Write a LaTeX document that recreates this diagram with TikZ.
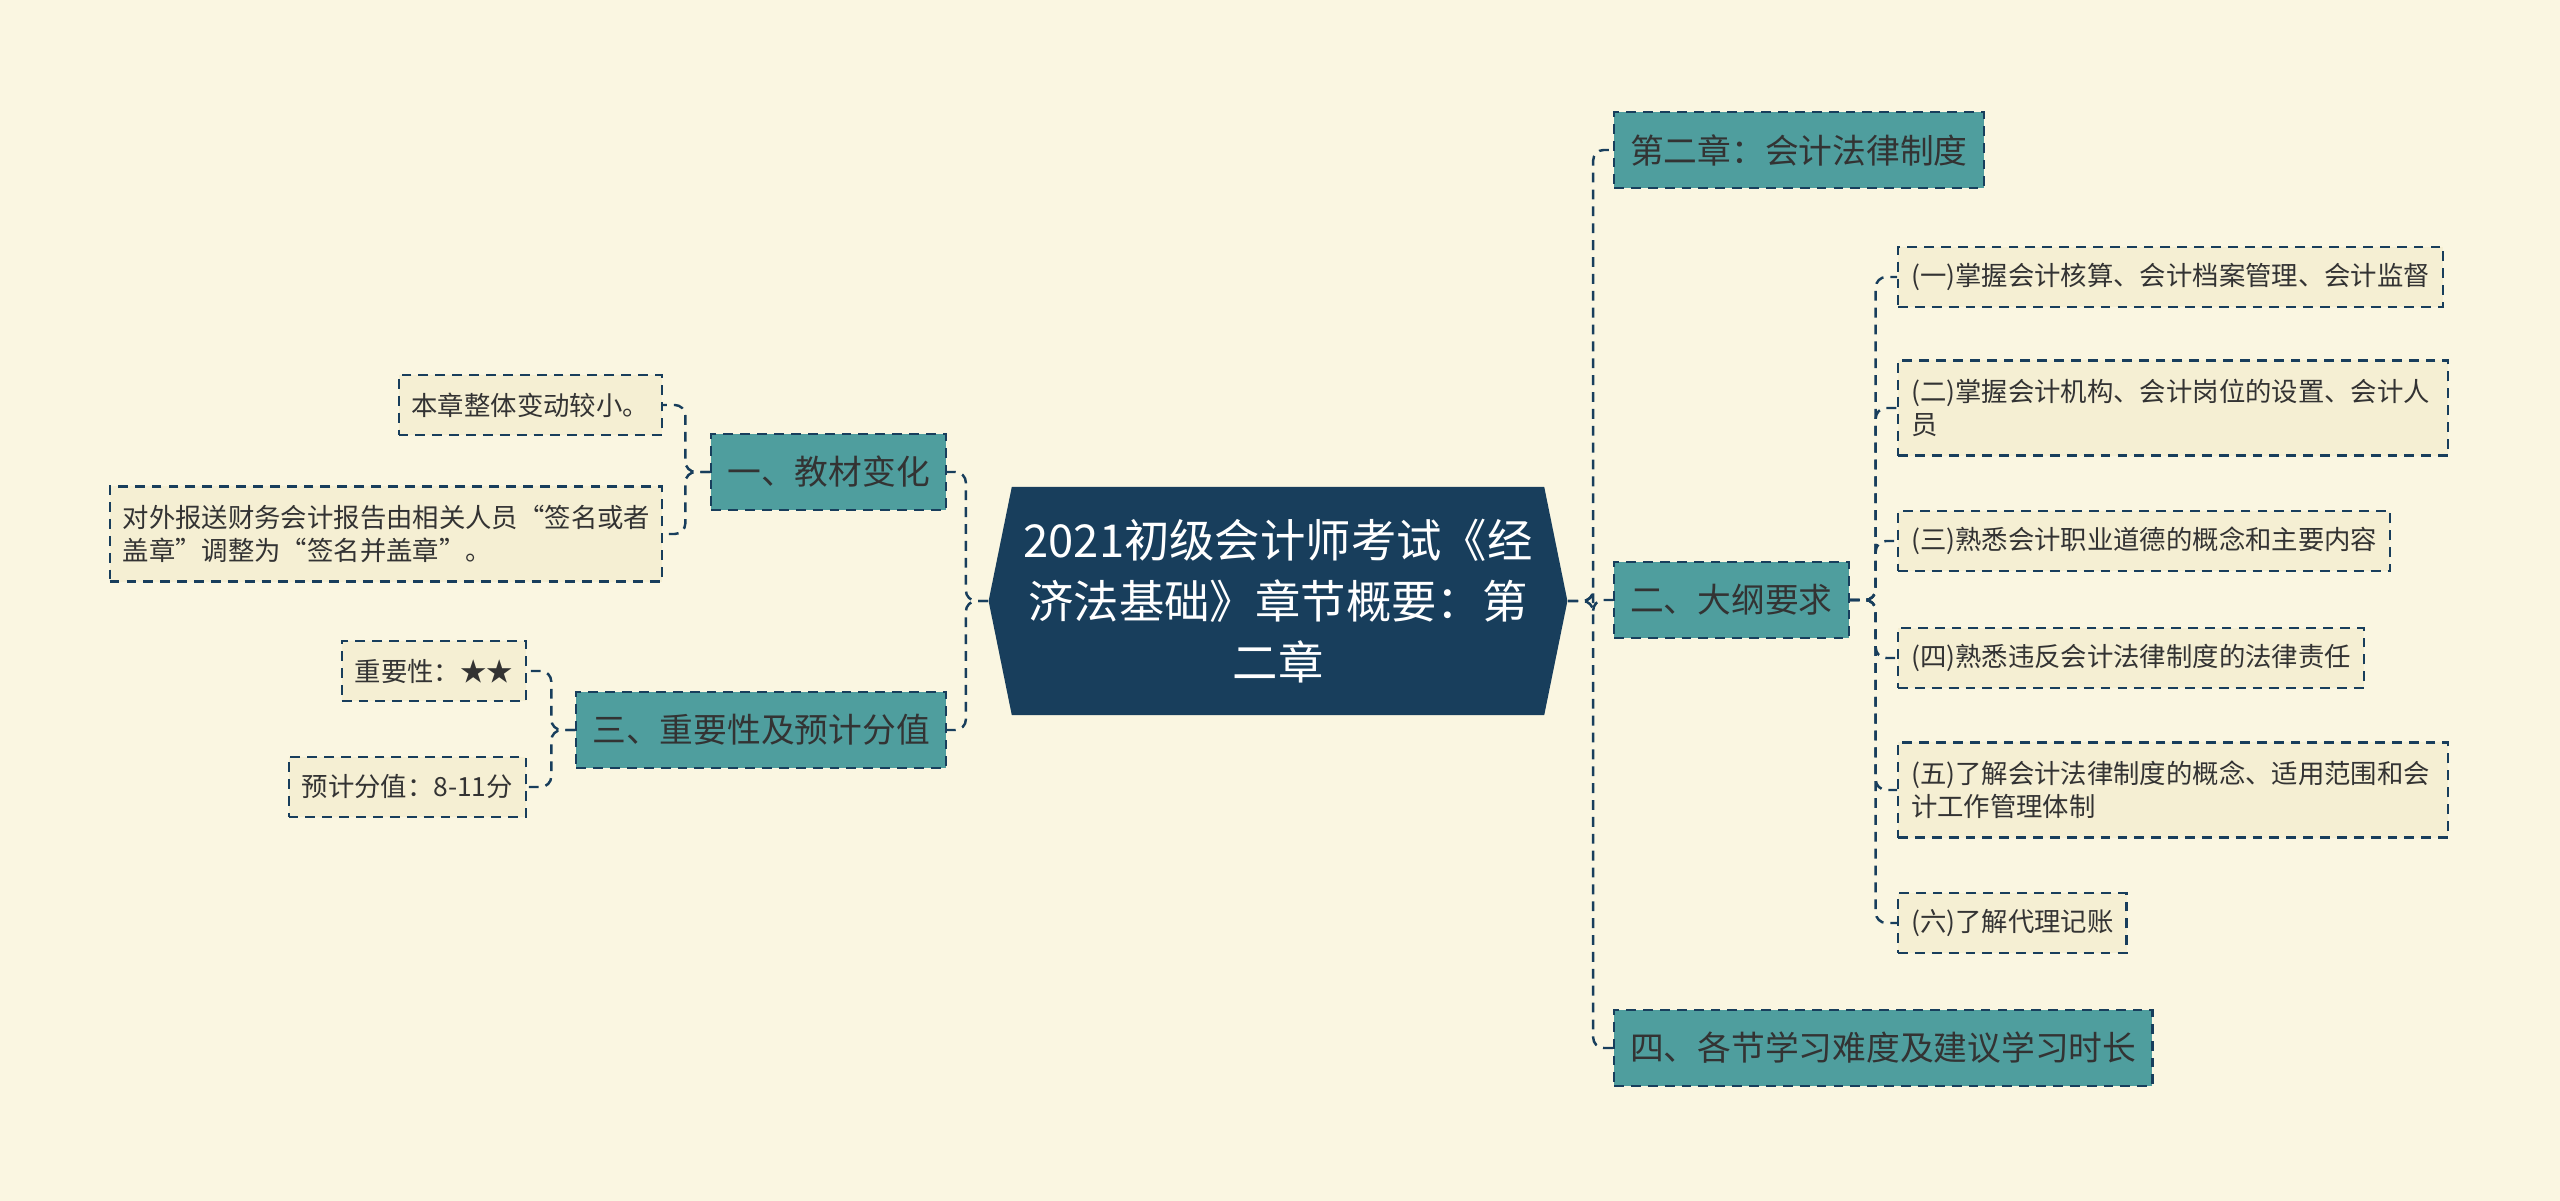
\documentclass[tikz,border=0pt]{standalone}
\usepackage{fontspec}
\setmainfont{Noto Sans CJK SC}
\usetikzlibrary{shapes.symbols}
\definecolor{paper}{HTML}{FAF6E1}
\definecolor{navy}{HTML}{183E5C}
\definecolor{teal}{HTML}{4F9E9E}
\definecolor{leaf}{HTML}{F5EFD3}
\definecolor{ink}{HTML}{333333}
\begin{document}
\begin{tikzpicture}[x=0.01cm,y=-0.01cm,
  link/.style={draw=navy,line width=0.7pt,dash pattern=on 2.8pt off 2pt,rounded corners=3pt},
  branch/.style={draw=navy,fill=teal,line width=0.6pt,dash pattern=on 2.8pt off 2pt,
    text=ink,font=\fontsize{9.6pt}{12pt}\selectfont,inner xsep=0.16cm,minimum height=0.76cm},
  leafbox/.style={draw=navy,fill=leaf,line width=0.6pt,dash pattern=on 2.8pt off 2pt,
    text=ink,font=\fontsize{7.5pt}{9.4pt}\selectfont,inner xsep=0.13cm,minimum height=0.6cm,align=left}]
\fill[paper] (0,0) rectangle (2560,1201);

% centre
\node[signal,signal to=west and east,signal pointer angle=157,fill=navy,text=white,
  minimum width=5.71cm,minimum height=2.28cm,align=center,
  font=\fontsize{12.9pt}{17.4pt}\selectfont] (root) at (1278,601)
  {2021初级会计师考试《经\\济法基础》章节概要：第\\二章};

% right side
\node[branch,anchor=west] (b1) at (1613,150) {第二章：会计法律制度};
\node[branch,anchor=west] (b2) at (1613,600) {二、大纲要求};
\node[branch,anchor=west] (b4) at (1613,1048) {四、各节学习难度及建议学习时长};

\node[leafbox,anchor=west] (r1) at (1897,277) {(一)掌握会计核算、会计档案管理、会计监督};
\node[leafbox,anchor=west,text width=5.24cm,minimum height=0.95cm] (r2) at (1897,408) {(二)掌握会计机构、会计岗位的设置、会计人\\员};
\node[leafbox,anchor=west] (r3) at (1897,541) {(三)熟悉会计职业道德的概念和主要内容};
\node[leafbox,anchor=west] (r4) at (1897,658) {(四)熟悉违反会计法律制度的法律责任};
\node[leafbox,anchor=west,text width=5.24cm,minimum height=0.95cm] (r5) at (1897,790) {(五)了解会计法律制度的概念、适用范围和会\\计工作管理体制};
\node[leafbox,anchor=west] (r6) at (1897,923) {(六)了解代理记账};

% left side
\node[branch,anchor=east] (l1) at (947,472) {一、教材变化};
\node[branch,anchor=east] (l3) at (947,730) {三、重要性及预计分值};

\node[leafbox,anchor=east] (a1) at (663,405) {本章整体变动较小。};
\node[leafbox,anchor=east,text width=5.26cm,minimum height=0.95cm] (a2) at (663,534) {对外报送财务会计报告由相关人员“签名或者\\盖章”调整为“签名并盖章”。};
\node[leafbox,anchor=east] (c1) at (527,671) {重要性：★★};
\node[leafbox,anchor=east] (c2) at (527,787) {预计分值：8-11分};

% connectors
\foreach \n in {b1,b2,b4}
  \draw[link] (root.east) -- ++(25,0) |- (\n.west);
\foreach \n in {r1,r2,r3,r4,r5,r6}
  \draw[link] (b2.east) -- ++(26,0) |- (\n.west);
\foreach \n in {l1,l3}
  \draw[link] (root.west) -- ++(-22,0) |- (\n.east);
\foreach \n in {a1,a2}
  \draw[link] (l1.west) -- ++(-25,0) |- (\n.east);
\foreach \n in {c1,c2}
  \draw[link] (l3.west) -- ++(-24,0) |- (\n.east);
\end{tikzpicture}
\end{document}
